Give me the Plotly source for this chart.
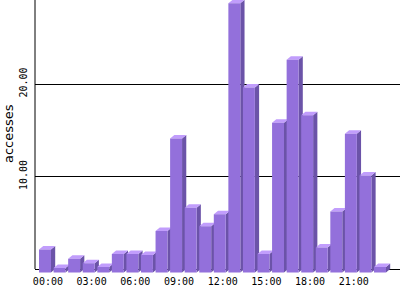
import plotly.graph_objects as go

hours = [f"{h:02d}:00" for h in range(24)]
accesses = [2.5, 0.5, 1.5, 1.0, 0.6, 2.0, 2.0, 1.9, 4.5, 14.5, 7.0, 5.0,
            6.3, 29.1, 20.0, 2.0, 16.2, 23.0, 17.0, 2.7, 6.6, 15.0, 10.5, 0.6]
tick_hours = hours[::3]
y_ticks = [10, 20]

FRONT = "#9370DB"
SIDE = "#6B53A8"
TOP = "#C19DFC"

# 3D bar geometry (in axis units)
half_w = 0.41
dx = 0.29   # depth offset in x
dy = 0.38   # depth offset in y

side_x, side_y, top_x, top_y, front_x, front_y = [], [], [], [], [], []
for i, v in enumerate(accesses):
    xl, xr = i - half_w, i + half_w
    b, t = -dy, v - dy
    front_x += [xl, xr, xr, xl, xl, None]
    front_y += [b, b, t, t, b, None]
    side_x += [xr, xr + dx, xr + dx, xr, xr, None]
    side_y += [b, 0, v, t, b, None]
    top_x += [xl, xr, xr + dx, xl + dx, xl, None]
    top_y += [t, t, v, v, t, None]

fig = go.Figure()
for xs, ys, col in [(side_x, side_y, SIDE), (top_x, top_y, TOP), (front_x, front_y, FRONT)]:
    fig.add_trace(go.Scatter(x=xs, y=ys, mode="lines", fill="toself",
                             fillcolor=col, line=dict(width=0, color=col),
                             hoverinfo="skip", showlegend=False))

px_per_cat = 14.565
xmin = -10 / px_per_cat
xmax = xmin + 365 / px_per_cat
k = 9.25
ymin = -5 / k
ymax = ymin + 274 / k

fig.update_layout(
    width=400, height=300,
    margin=dict(l=35, r=0, t=0, b=26),
    paper_bgcolor="white", plot_bgcolor="white",
    showlegend=False,
    xaxis=dict(range=[xmin, xmax], showgrid=False, zeroline=False, showline=False,
               tickvals=[hours.index(h) + 0.2 for h in tick_hours], ticktext=tick_hours,
               ticks="", tickfont=dict(family="DejaVu Sans Mono", size=10, color="black")),
    yaxis=dict(range=[ymin, ymax], showgrid=True, gridcolor="black", gridwidth=1,
               zeroline=True, zerolinecolor="black", zerolinewidth=1, showline=False,
               tickvals=y_ticks, ticktext=[f"{v:.2f}" for v in y_ticks], tickangle=-90,
               ticks="", ticklabelstandoff=5,
               tickfont=dict(family="DejaVu Sans Mono", size=10, color="black")),
    shapes=[dict(type="line", xref="paper", yref="y", x0=0, x1=0, y0=0, y1=ymax,
                 line=dict(color="black", width=1), layer="below")],
    annotations=[dict(text="accesses", textangle=-90, xref="paper", yref="paper",
                      x=(8 - 35) / 365, y=1 - 134 / 274, xanchor="center", yanchor="middle",
                      showarrow=False, font=dict(family="DejaVu Sans", size=13, color="black"))],
)

fig.write_html("out.html")
